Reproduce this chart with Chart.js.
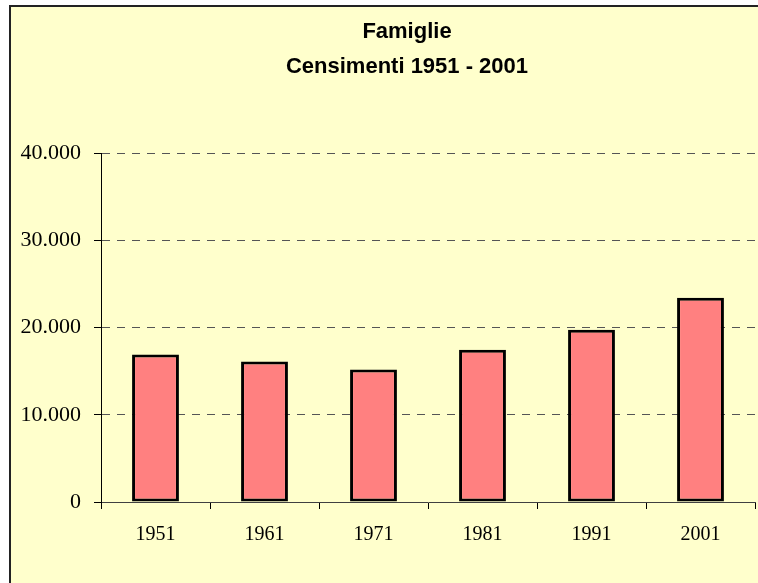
<!DOCTYPE html>
<html>
<head>
<meta charset="utf-8">
<script src="https://cdn.jsdelivr.net/npm/chart.js@4"></script>
<style>
    body { margin: 0; overflow: hidden; background: #ffffff; }
    #frame {
        position: absolute;
        left: 9px;
        top: 5px;
        width: 800px;
        height: 600px;
        border-left: 2px solid #222;
        border-top: 2px solid #222;
        background: #ffffcc;
    }
</style>
</head>
<body>
<div id="frame">
    <canvas id="famiglieChart" width="792" height="576"></canvas>
</div>
<script>
const anni = ['1951', '1961', '1971', '1981', '1991', '2001'];
const famiglie = [16900, 16100, 15200, 17450, 19750, 23400];
const titolo = ['Famiglie', 'Censimenti 1951 - 2001'];

const serif = "'Liberation Serif', 'Times New Roman', serif";

function migliaia(v) {
    return String(v).replace(/\B(?=(\d{3})+(?!\d))/g, '.');
}

const ctx = document.getElementById('famiglieChart').getContext('2d');
const famiglieChart = new Chart(ctx, {
    type: 'bar',
    data: {
        labels: anni,
        datasets: [{
            label: 'Famiglie',
            data: famiglie,
            backgroundColor: '#ff8080',
            borderColor: '#000000',
            borderWidth: 3,
            borderSkipped: false,
            barPercentage: 0.43,
            categoryPercentage: 1
        }]
    },
    options: {
        responsive: false,
        animation: false,
        layout: { padding: 0 },
        plugins: {
            legend: { display: false },
            tooltip: { enabled: false },
            title: {
                display: true,
                text: titolo,
                color: '#000000',
                font: { family: "'Liberation Sans', Arial, sans-serif", size: 22, weight: 'bold', lineHeight: '35px' },
                padding: { top: 7, bottom: 69 }
            }
        },
        scales: {
            x: {
                grid: {
                    drawOnChartArea: false,
                    drawTicks: true,
                    tickLength: 7,
                    tickColor: '#000000'
                },
                border: { color: '#404040', width: 1 },
                ticks: {
                    color: '#000000',
                    padding: 14,
                    font: { family: serif, size: 20 }
                },
                afterFit: function (scale) { scale.height = 81; }
            },
            y: {
                min: 0,
                max: 40000,
                grid: {
                    color: function (c) { return c.tick && c.tick.value === 0 ? 'rgba(0,0,0,0)' : '#555555'; },
                    tickLength: 7,
                    tickColor: '#000000'
                },
                border: { color: '#000000', width: 1, dash: [8, 7] },
                ticks: {
                    stepSize: 10000,
                    color: '#000000',
                    padding: 13,
                    font: { family: serif, size: 22 },
                    callback: function (v) { return migliaia(v); }
                },
                afterFit: function (scale) { scale.width = 90; }
            },
            // empty margin on the right of the plot
            destra: {
                type: 'linear',
                position: 'right',
                display: true,
                grid: { display: false },
                border: { display: false },
                ticks: { display: false },
                afterFit: function (scale) { scale.width = 48; }
            }
        }
    }
});
</script>
</body>
</html>
